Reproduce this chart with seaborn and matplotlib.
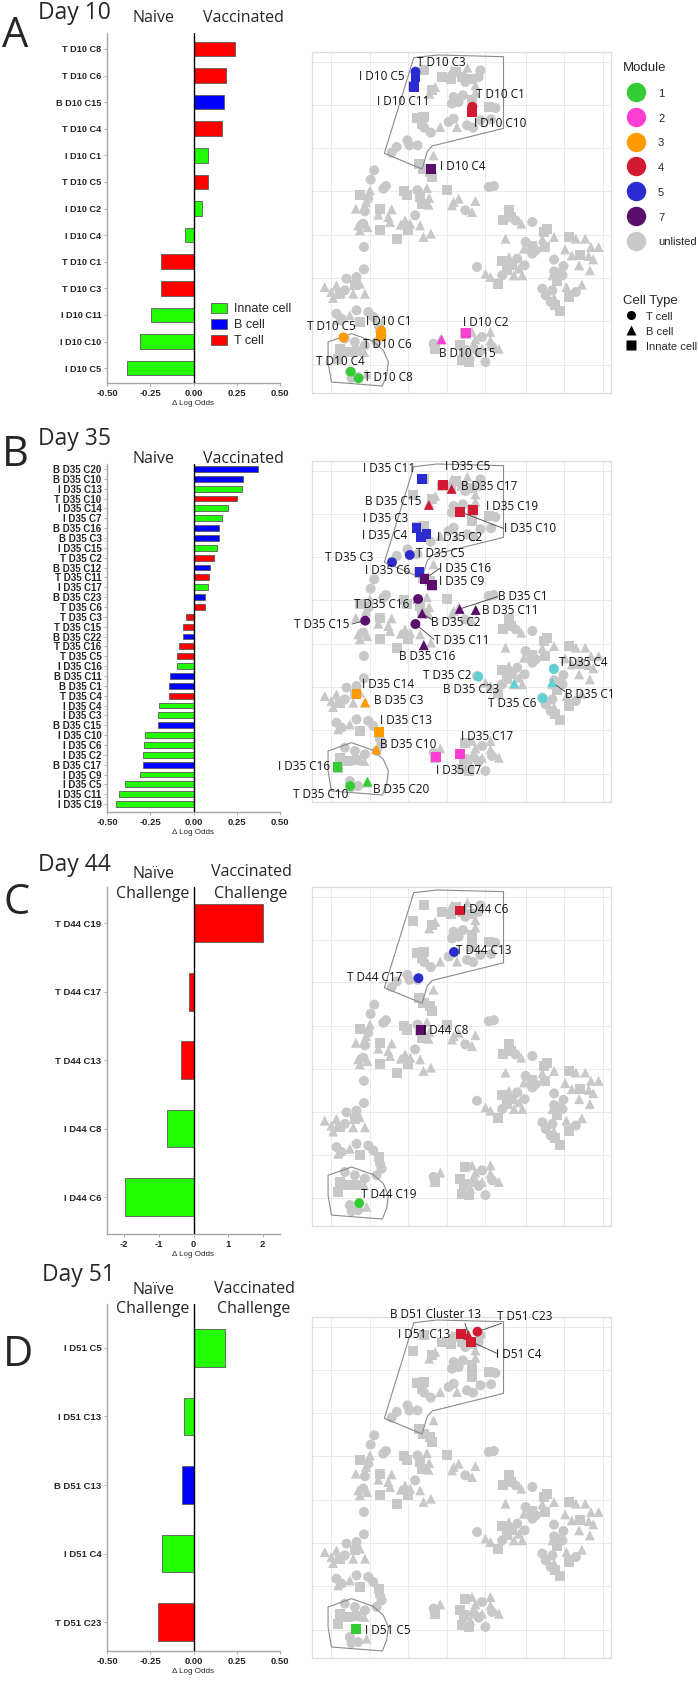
import numpy as np
import pandas as pd
import matplotlib
matplotlib.use("Agg")
import matplotlib.pyplot as plt
import seaborn as sns
from matplotlib.lines import Line2D
from matplotlib.patches import Patch, Polygon


# ---------------- bar chart values (delta log odds) ----------------
d10_clusters = ["T D10 C8", "T D10 C6", "B D10 C15", "T D10 C4", "I D10 C1", "T D10 C5",
                "I D10 C2", "I D10 C4", "T D10 C1", "T D10 C3", "I D10 C11", "I D10 C10", "I D10 C5"]
d10_odds = [0.242, 0.185, 0.179, 0.162, 0.081, 0.081, 0.052, -0.052, -0.187, -0.19, -0.248, -0.31, -0.387]

d35_clusters = ["B D35 C20", "B D35 C10", "I D35 C13", "T D35 C10", "I D35 C14", "I D35 C7",
                "B D35 C16", "B D35 C3", "I D35 C15", "T D35 C2", "B D35 C12", "T D35 C11",
                "I D35 C17", "B D35 C23", "T D35 C6", "T D35 C3", "T D35 C15", "B D35 C22",
                "T D35 C16", "T D35 C5", "I D35 C16", "B D35 C11", "B D35 C1", "T D35 C4",
                "I D35 C4", "I D35 C3", "B D35 C15", "I D35 C10", "I D35 C6", "I D35 C2",
                "B D35 C17", "I D35 C9", "I D35 C5", "I D35 C11", "I D35 C19"]
d35_odds = [0.375, 0.288, 0.281, 0.252, 0.202, 0.167, 0.146, 0.146, 0.137, 0.119, 0.096, 0.090,
            0.085, 0.065, 0.065, -0.046, -0.06, -0.062, -0.081, -0.094, -0.098, -0.138, -0.142,
            -0.142, -0.2, -0.204, -0.206, -0.281, -0.288, -0.292, -0.292, -0.31, -0.394, -0.431, -0.45]

d44_clusters = ["T D44 C19", "T D44 C17", "T D44 C13", "I D44 C8", "I D44 C6"]
d44_odds = [2.01, -0.13, -0.35, -0.76, -1.99]

d51_clusters = ["I D51 C5", "I D51 C13", "B D51 C13", "I D51 C4", "T D51 C23"]
d51_odds = [0.184, -0.055, -0.064, -0.18, -0.203]

cell_names = {"T": "T cell", "B": "B cell", "I": "Innate cell"}
bar_pal = {"Innate cell": "#22ff00", "B cell": "#0000ff", "T cell": "#ff0000"}

# ---------------- embedding (grey background cells) ----------------
bg_x = [
    # top gate
    -2.5, 0.5, 3.5, 5.5, 6.0, -5.5, -2.8, 1.5, 4.5, -10.9, -1.2, 2.1, -14.0, -9.3, -7.5, -8.5, 4.5,
    -2.0, 0.8, -2.5, -0.5, 3.5, 3.5, 3.5, 8.5, 10.5, -13.0, -11.0, -11.5, -10.8, -8.8, -6.0, -3.5,
    -2.0, -1.0, 2.0, 3.8, 6.0, 9.2, -20.5, -19.0, -15.8, -15.2, -12.8, -8.0, -12.2, -11.0, -9.0, -8.5,
    # middle left
    -25.7, -26.8, -30.0, -27.0, -23.0, -22.2, -31.2, -28.5, -27.5, -28.2, -24.0, -24.5, -20.5, -21.5,
    -30.5, -29.0, -30.0, -27.8, -24.0, -21.0,
    -16.8, -16.0, -12.8, -12.0, -10.0, -9.3, -9.5, -11.5, -13.5, -16.5, -17.8, -15.0, -15.5, -12.0,
    -19.0, -11.0, -8.8,
    -4.0, -2.0, -0.5, -2.5, 1.5, 3.5, 4.5, 8.5, 10.0, -28.8, -28.8,
    # right
    14.5, 12.8, 15.0, 16.5, 18.2, 21.5,
    13.5, 19.5, 19.0, 21.5, 22.5, 21.5, 25.3, 25.0, 26.0, 28.0, 24.5, 32.5, 34.5, 37.3, 39.0, 41.3,
    31.3, 33.3, 35.7, 38.3, 39.7, 38.7, 35.5, 28.0, 30.8, 28.0, 29.7, 30.5, 27.5, 29.0, 31.7, 32.5,
    34.5, 36.3, 24.5, 25.5, 27.5, 27.0, 28.3, 29.7, 28.0,
    5.0, 7.5, 9.0, 11.2, 12.3, 14.5, 15.5, 17.5, 19.2, 17.0, 12.5, 16.0, 18.5, 14.0,
    # lower left
    -40.5, -38.5, -37.0, -36.0, -38.0, -34.0, -31.0, -31.5, -30.0, -28.5, -32.0, -34.5,
    -37.0, -35.5, -33.0, -31.0, -30.0, -27.5, -26.0, -24.3, -24.0, -23.5, -25.0, -28.5, -31.5,
    -34.5, -36.0, -33.5, -31.0, -28.7, -36.5, -33.0, -32.5, -30.5, -28.0, -36.5,
    # bottom middle
    -8.0, -7.5, -6.0, 1.5, 0.0, 1.0, 0.5, 3.5, 4.5, 4.0, 3.0, 6.5, 6.5, 5.5, 9.0, 9.0, 9.5, 11.5,
    7.5, 2.5,
]
bg_y = [
    45.5, 43.5, 43.0, 43.5, 45.5, 43.5, 42.8, 42.0, 41.0, 45.6, 45.0, 46.3, 40.8, 38.5, 40.5, 39.5, 38.8,
    37.5, 38.0, 35.5, 36.0, 36.5, 34.5, 33.0, 34.5, 34.2, 31.2, 31.5, 29.5, 28.3, 26.8, 28.5, 30.0,
    31.0, 28.5, 29.0, 28.3, 30.5, 30.8, 20.8, 22.5, 24.5, 23.0, 23.0, 20.0, 17.5, 16.0, 15.0, 13.5,
    15.5, 12.7, 8.2, 9.5, 10.0, 10.8, 4.0, 3.2, 7.0, 6.0, 4.0, 2.2, 3.8, 1.5,
    -1.0, -0.5, -2.5, -1.5, -2.5, 0.0,
    9.2, 8.0, 9.5, 7.5, 10.2, 7.2, 5.2, 5.5, 2.0, 0.5, -0.8, -0.5, -2.5, -1.0,
    -5.0, -4.5, -3.5,
    9.5, 6.0, 7.0, 5.0, 3.5, 3.0, 6.3, 10.5, 10.8, -7.5, -14.2,
    3.5, 0.7, 1.5, 0.5, -0.5, 0.0,
    -5.0, -6.0, -8.0, -7.2, -8.5, -9.5, -7.5, -3.0, -2.2, -4.5, -5.2, -4.5, -5.0, -5.0, -7.5, -7.5,
    -8.2, -10.0, -10.0, -10.2, -11.2, -14.5, -13.0, -11.3, -13.2, -14.8, -14.8, -16.0, -16.0, -17.8, -19.5, -22.5,
    -21.0, -18.8, -20.0, -22.0, -20.5, -24.0, -24.8, -26.8, -22.8,
    -13.5, -15.5, -16.5, -18.7, -11.8, -10.5, -13.0, -14.0, -13.0, -11.0, -16.0, -16.0, -16.0, -14.5,
    -19.5, -21.0, -19.0, -21.5, -22.8, -17.0, -16.5, -19.0, -18.5, -21.5, -21.5, -20.5,
    -27.5, -29.0, -28.0, -26.5, -30.0, -27.0, -28.5, -30.5, -32.5, -34.0, -36.0, -37.0, -36.0,
    -35.0, -38.0, -39.0, -38.8, -39.0, -41.0, -45.0, -46.8, -46.5, -45.5, -29.5,
    -36.5, -38.0, -35.2, -33.5, -37.0, -38.5, -41.5, -33.0, -35.2, -38.0, -40.0, -34.5, -38.0, -39.2,
    -33.0, -35.5, -37.5, -38.0, -42.0, -42.0,
]
bg_cell = list(
    "BIITTIITBIIBIBBIB"
    "TTTTIIIITIIITTBT"
    "TBTTTTTTTTTBIIII"
    "TTIBTTBTTBIBBB"
    "BTBBIB"
    "IITIBBBITBBBIB"
    "IBB"
    "IBBBTBBTTTT"
    "IIITBT"
    "BTBITTIIIBBIBBBB"
    "BBIBBBBTTTBTBIBI"
    "TBTTTTIIB"
    "TBBIIBIBTTTBBI"
    "BBBIBTTIBBBT"
    "TTBTITTITTTTT"
    "TIIIBITTTBB"
    "TIBIIIIBBTBTBTBBTB"
    "TI"
)

# gating outlines
gate_top_x = [-13.9, -6.9, 12.9, 12.9, -8.4, -9.9, -11.4, -22.7]
gate_top_y = [49.3, 50.1, 49.6, 28.1, 22.8, 21.1, 15.9, 20.6]
gate_bot_x = [-39.5, -32.5, -26.0, -23.0, -21.5, -22.0, -23.3, -38.5, -39.5]
gate_bot_y = [-36.0, -33.5, -35.8, -38.5, -42.0, -46.0, -49.2, -48.0, -42.0]

# ---------------- highlighted clusters on the embedding ----------------
d10_names = ["T D10 C3", "I D10 C5", "I D10 C11", "T D10 C1", "I D10 C10", "I D10 C4", "T D10 C5",
             "T D10 C6", "I D10 C1", "B D10 C15", "I D10 C2", "T D10 C4", "T D10 C8"]
d10_x = [-13.4, -13.4, -13.9, 3.6, 3.6, -8.7, -34.9, -23.6, -23.6, -5.6, 1.8, -32.7, -30.4]
d10_y = [45.1, 43.6, 40.6, 34.6, 33.1, 15.9, -34.6, -32.6, -34.2, -35.2, -33.4, -44.9, -46.9]
d10_mod = ["5", "5", "5", "4", "4", "7", "3", "3", "3", "2", "2", "1", "1"]

d35_names = ["I D35 C11", "I D35 C5", "B D35 C17", "B D35 C15", "I D35 C19", "I D35 C10", "I D35 C3",
             "I D35 C4", "I D35 C2", "T D35 C5", "T D35 C3", "I D35 C6", "I D35 C16", "I D35 C9",
             "T D35 C16", "B D35 C2", "B D35 C1", "B D35 C11", "T D35 C15", "T D35 C11", "B D35 C16",
             "T D35 C4", "T D35 C2", "B D35 C23", "B D35 C1", "T D35 C6", "I D35 C14", "B D35 C3",
             "I D35 C13", "B D35 C10", "I D35 C17", "I D35 C7", "I D35 C16", "T D35 C10", "B D35 C20"]
d35_x = [-11.4, -5.2, -2.6, -9.4, 3.9, -0.1, -13.1, -11.7, -10.1, -15.1, -20.4, -12.2, -10.7, -8.4,
         -12.6, -11.4, -0.2, 4.6, -28.4, -13.4, -10.9, 27.9, 5.4, 16.1, 27.4, 24.6, -31.0, -28.4,
         -24.2, -25.1, -0.1, -7.2, -36.7, -32.9, -27.7]
d35_y = [45.5, 43.8, 42.6, 37.8, 36.3, 35.8, 31.0, 28.3, 29.1, 22.8, 20.6, 17.6, 15.6, 13.8,
         9.6, 5.3, 6.6, 6.3, 3.1, 2.1, -4.2, -11.4, -13.7, -15.7, -15.4, -20.2, -18.9, -21.4,
         -30.4, -35.5, -36.9, -37.9, -40.7, -46.5, -45.2]
d35_mod = ["5", "4", "4", "4", "4", "4", "5", "5", "5", "5", "5", "5", "7", "7",
           "7", "7", "7", "7", "7", "7", "7", "6", "6", "6", "6", "6", "3", "3",
           "3", "3", "2", "2", "1", "1", "1"]

d44_names = ["I D44 C6", "T D44 C13", "T D44 C17", "I D44 C8", "T D44 C19"]
d44_x = [-0.1, -1.9, -12.5, -11.7, -30.2]
d44_y = [43.9, 31.4, 23.5, 7.8, -44.4]
d44_mod = ["4", "5", "5", "7", "1"]

d51_names = ["I D51 C13", "B D51 Cluster 13", "T D51 C23", "I D51 C4", "I D51 C5"]
d51_x = [0.1, 2.4, 5.1, 3.3, -31.1]
d51_y = [45.9, 45.6, 46.6, 43.6, -42.6]
d51_mod = ["4", "4", "4", "4", "1"]

module_pal = {"1": "#33cc33", "2": "#ff3fd2", "3": "#ff9a00", "4": "#d11b33",
              "5": "#2b2bcf", "6": "#62cfd5", "7": "#5b0f6d", "unlisted": "#c8c8c8"}
legend_modules = ["1", "2", "3", "4", "5", "7", "unlisted"]

# ---------------- label layout (text x, text y, align, leader end) ----------------
d10_layout = [(-12.9, 47.8, "left", None), (-30.4, 43.8, "left", None), (-24.9, 36.1, "left", None),
              (4.6, 38.4, "left", None), (4.1, 29.6, "left", None), (-6.1, 16.8, "left", None),
              (-45.9, -31.4, "left", None), (-29.1, -36.9, "left", None), (-28.1, -29.9, "left", None),
              (-6.4, -39.4, "left", None), (0.9, -30.2, "left", None), (-43.1, -41.9, "left", None),
              (-28.9, -46.6, "left", None)]
d35_layout = [(-29.1, 48.8, "left", None), (-4.7, 49.5, "left", None), (0.3, 43.3, "left", None),
              (-28.6, 38.8, "left", None), (7.6, 37.5, "left", None), (12.9, 30.8, "left", (12.8, 30.8)),
              (-29.1, 33.6, "left", None), (-29.4, 28.6, "left", None), (-6.9, 28.1, "left", None),
              (-13.1, 23.3, "left", None), (-40.4, 22.1, "left", None), (-28.4, 18.3, "left", None),
              (-6.4, 18.8, "left", (-6.1, 18.8)), (-6.4, 14.8, "left", None),
              (-31.9, 8.1, "left", (-14.0, 8.3)), (-8.7, 2.6, "left", (-8.4, 3.3)),
              (11.3, 10.3, "left", (11.1, 10.3)), (6.6, 6.3, "left", None),
              (-49.7, 2.1, "left", (-32.4, 2.1)), (-7.9, -2.9, "left", (-7.9, -2.5)),
              (-18.4, -7.5, "left", None), (29.6, -9.4, "left", None), (-11.2, -13.4, "left", None),
              (-5.2, -17.5, "left", None), (31.3, -19.0, "left", (31.3, -18.2)), (8.3, -21.7, "left", None),
              (-29.4, -15.9, "left", None), (-25.9, -20.9, "left", None), (-24.1, -27.0, "left", None),
              (-24.1, -34.2, "left", None), (0.1, -31.7, "left", None), (-7.4, -41.9, "left", None),
              (-39.0, -40.7, "right", None), (-50.1, -49.2, "left", None), (-26.1, -47.5, "left", None)]
d44_layout = [(0.9, 44.3, "left", None), (-1.4, 31.9, "left", None), (-33.9, 23.7, "left", None),
              (-11.1, 7.8, "left", None), (-29.7, -41.7, "left", None)]
d51_layout = [(-18.7, 45.9, "left", None), (-20.9, 51.6, "left", (1.4, 49.1)),
              (11.1, 51.1, "left", (12.3, 49.1)), (10.6, 39.9, "left", (10.9, 40.1)),
              (-28.4, -42.9, "left", None)]

grid_x = [-38.5, -27, -15.5, -4, 7.5, 19.5, 31, 42.5]
grid_y = [48, 35, 22.2, 9.2, -3.8, -16.8, -29.8, -43]
shape_map = {"T cell": "o", "B cell": "^", "Innate cell": "s"}

sns.set_style("ticks")
plt.rcParams["font.family"] = ["Liberation Sans", "DejaVu Sans"]

W, H = 698, 1693
fig = plt.figure(figsize=(W / 100, H / 100), dpi=100)


def add_ax(l, t, r, b):
    return fig.add_axes([l / W, 1 - b / H, (r - l) / W, (b - t) / H])


def ftext(x, y, s, **kw):
    fig.text(x / W, 1 - y / H, s, family=["Open Sans", "DejaVu Sans"], va="baseline", **kw)


def draw_bars(ax, clusters, odds, xlim, ticks, ticklabels, ylim, fs, bw=0.55):
    df = pd.DataFrame({"cluster": clusters, "odds": odds,
                       "cell": [cell_names[c[0]] for c in clusters]})
    sns.barplot(data=df, x="odds", y="cluster", hue="cell", order=clusters,
                hue_order=["Innate cell", "B cell", "T cell"], palette=bar_pal,
                dodge=False, width=bw, saturation=1, edgecolor="#5a5a5a", linewidth=0.6,
                errorbar=None, legend=False, ax=ax)
    ax.axvline(0, color="black", lw=1.0, zorder=5)
    ax.set_xlim(*xlim)
    ax.set_ylim(*ylim)
    ax.set_xticks(ticks)
    ax.set_xticklabels(ticklabels, fontsize=6.8, fontweight="bold")
    ax.tick_params(axis="y", labelsize=fs)
    for lab in ax.get_yticklabels():
        lab.set_fontweight("bold")
    ax.tick_params(length=2.5, width=0.6, color="#a0a0a0", pad=1.5)
    ax.set_ylabel("")
    ax.set_xlabel("\u0394 Log Odds", fontsize=5.8, labelpad=2)
    sns.despine(ax=ax)
    for side in ["left", "bottom"]:
        ax.spines[side].set_color("#a6a6a6")
        ax.spines[side].set_linewidth(1.0)


def draw_map(ax, names, xs, ys, mods, layout):
    sns.scatterplot(x=bg_x, y=bg_y, style=[cell_names[c] for c in bg_cell], markers=shape_map,
                    color=module_pal["unlisted"], s=52, linewidth=0, legend=False, ax=ax)
    ax.add_patch(Polygon(list(zip(gate_top_x, gate_top_y)), closed=True, fill=False,
                         ec="#8a8a8a", lw=0.8))
    ax.add_patch(Polygon(list(zip(gate_bot_x, gate_bot_y)), closed=True, fill=False,
                         ec="#8a8a8a", lw=0.8))
    ax.set_xlim(-44.3, 45.0)
    ax.set_ylim(-51.3, 51.0)
    for (tx, ty, ha, lead), px_, py_ in zip(layout, xs, ys):
        if lead is not None:
            ax.plot([px_, lead[0]], [py_, lead[1]], color="#3a3a3a", lw=0.6, zorder=3)
    sns.scatterplot(x=xs, y=ys, hue=mods, palette=module_pal,
                    style=[cell_names[n[0]] for n in names], markers=shape_map,
                    s=50, linewidth=0, legend=False, ax=ax, zorder=4)
    for name, (tx, ty, ha, lead) in zip(names, layout):
        ax.text(tx, ty, name, ha=ha, va="center", fontsize=8.5,
                family=["Open Sans", "DejaVu Sans"], color="#111111", zorder=6)
    ax.set_xticks(grid_x)
    ax.set_yticks(grid_y)
    ax.tick_params(length=0, labelbottom=False, labelleft=False)
    ax.grid(True, color="#ebebeb", lw=0.7)
    ax.set_axisbelow(True)
    ax.set_xlabel("")
    ax.set_ylabel("")
    for sp in ax.spines.values():
        sp.set_color("#dedede")
        sp.set_linewidth(0.9)


quarter = [-0.5, -0.25, 0, 0.25, 0.5]
quarter_lab = ["-0.50", "-0.25", "0.00", "0.25", "0.50"]

axA = add_ax(107, 33, 280, 383)
draw_bars(axA, d10_clusters, d10_odds, (-0.5, 0.5), quarter, quarter_lab, (12.56, -0.6), 6.6)
axB = add_ax(107, 464, 280, 812)
draw_bars(axB, d35_clusters, d35_odds, (-0.5, 0.5), quarter, quarter_lab, (34.8, -0.5), 7.0, bw=0.6)
axC = add_ax(107, 887, 280, 1234)
draw_bars(axC, d44_clusters, d44_odds, (-2.5, 2.5), [-2, -1, 0, 1, 2],
          ["-2", "-1", "0", "1", "2"], (4.54, -0.53), 6.8)
axD = add_ax(107, 1304, 280, 1651)
draw_bars(axD, d51_clusters, d51_odds, (-0.5, 0.5), quarter, quarter_lab, (4.42, -0.64), 6.8)

draw_map(add_ax(312, 52, 611, 393), d10_names, d10_x, d10_y, d10_mod, d10_layout)
draw_map(add_ax(312, 461, 611, 802), d35_names, d35_x, d35_y, d35_mod, d35_layout)
draw_map(add_ax(312, 887, 611, 1226), d44_names, d44_x, d44_y, d44_mod, d44_layout)
draw_map(add_ax(312, 1317, 611, 1658), d51_names, d51_x, d51_y, d51_mod, d51_layout)

# bar colour legend
fig.legend(handles=[Patch(fc=bar_pal[k], ec="#5a5a5a", lw=0.6) for k in ["Innate cell", "B cell", "T cell"]],
           labels=["Innate cell", "B cell", "T cell"], loc="upper left",
           bbox_to_anchor=(211 / W, 1 - 303 / H), frameon=False, fontsize=9,
           handlelength=1.25, handleheight=0.85, handletextpad=0.6, labelspacing=0.3,
           borderpad=0, borderaxespad=0)

# module legend
fig.legend(handles=[Line2D([], [], marker="o", ls="", ms=14, mfc=module_pal[m], mec="none")
                    for m in legend_modules],
           labels=legend_modules, title="Module", loc="upper left",
           bbox_to_anchor=(623 / W, 1 - 62 / H), frameon=False, fontsize=8,
           title_fontsize=9.5, handlelength=2.35, handleheight=1.2, handletextpad=0.8,
           labelspacing=1.2, borderpad=0, borderaxespad=0, alignment="left")
fig.legend(handles=[Line2D([], [], marker=shape_map[k], ls="", ms=6.5, mfc="black", mec="none")
                    for k in ["T cell", "B cell", "Innate cell"]],
           labels=["T cell", "B cell", "Innate cell"], title="Cell Type", loc="upper left",
           bbox_to_anchor=(623 / W, 1 - 295 / H), frameon=False, fontsize=8, title_fontsize=9.5,
           handlelength=1.45, handleheight=1.2, handletextpad=0.63, labelspacing=0.32,
           borderpad=0, borderaxespad=0, alignment="left")

# panel headings
ftext(2, 47, "A", fontsize=30)
ftext(38, 19, "Day 10", fontsize=16.5)
ftext(153, 22, "Naive", fontsize=11.5, ha="center")
ftext(203, 22, "Vaccinated", fontsize=11.5)

ftext(2, 466, "B", fontsize=30)
ftext(38, 445, "Day 35", fontsize=16.5)
ftext(153, 463, "Naive", fontsize=11.5, ha="center")
ftext(203, 463, "Vaccinated", fontsize=11.5)

ftext(3, 914, "C", fontsize=30)
ftext(38, 871, "Day 44", fontsize=16.5)
ftext(154, 878, "Na\u00efve", fontsize=11.5, ha="center")
ftext(153, 898, "Challenge", fontsize=11.5, ha="center")
ftext(251, 876, "Vaccinated", fontsize=11.5, ha="center")
ftext(251, 898, "Challenge", fontsize=11.5, ha="center")

ftext(3, 1366, "D", fontsize=30)
ftext(42, 1281, "Day 51", fontsize=16.5)
ftext(154, 1294, "Na\u00efve", fontsize=11.5, ha="center")
ftext(153, 1313, "Challenge", fontsize=11.5, ha="center")
ftext(254, 1293, "Vaccinated", fontsize=11.5, ha="center")
ftext(254, 1313, "Challenge", fontsize=11.5, ha="center")

fig.savefig("out.png", dpi=100)
